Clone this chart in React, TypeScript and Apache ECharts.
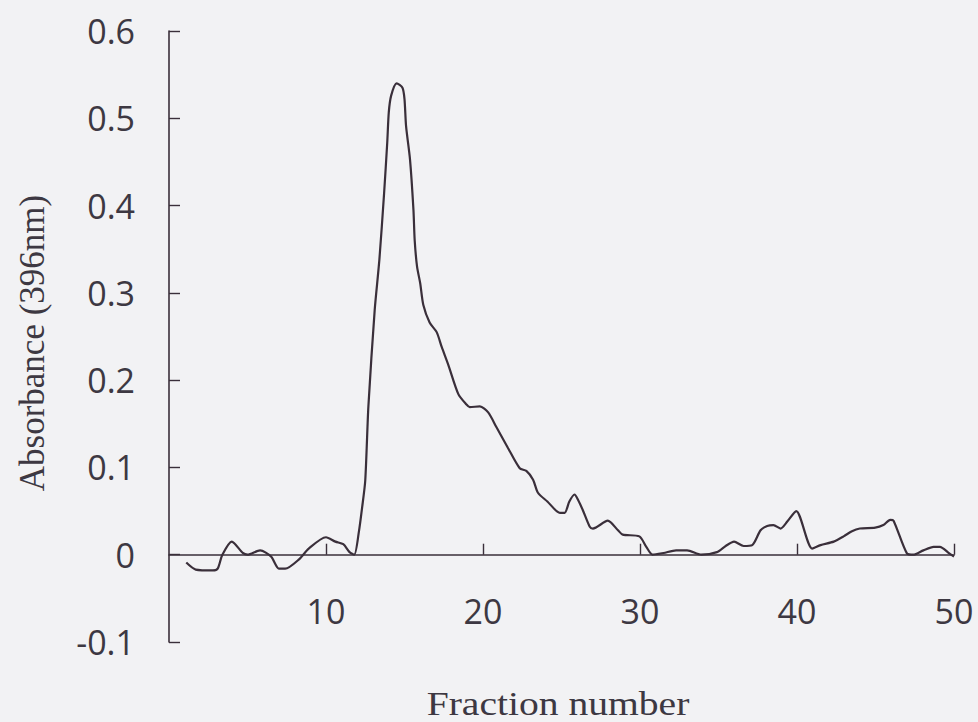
import React, { useEffect, useRef } from "react";
import * as echarts from "echarts";

const fraction = [
  1.1, 1.7, 2.8, 3.1, 3.4, 4.0, 4.7, 5.0, 5.8, 6.5, 7.0, 7.4, 8.3, 8.9, 10.0, 10.6, 11.1, 11.5, 11.8,
  12.1, 12.3, 12.5, 12.7, 13.1, 13.4, 13.7, 13.9, 14.0, 14.15, 14.5, 14.87, 15.0, 15.1, 15.35, 15.57,
  15.65, 15.8, 16.0, 16.2, 16.6, 17.05, 17.37, 17.8, 18.43, 18.95, 19.16, 19.8, 20.33, 20.86, 21.6,
  22.34, 22.76, 23.19, 23.5, 24.1, 24.9, 25.2, 25.5, 25.83, 26.05, 26.36, 26.8, 27.0, 27.95, 28.6,
  28.9, 29.96, 30.4, 30.8, 31.5, 32.3, 33.0, 33.9, 34.9, 35.46, 35.99, 36.6, 37.15, 37.68, 38.1, 38.5,
  38.95, 39.38, 39.95, 40.97, 41.5, 42.34, 42.97, 43.5, 44.0, 44.98, 45.5, 45.94, 46.15, 47.0, 47.4,
  48.05, 48.7, 49.1, 49.7, 50.0,
];

const absorbance = [
  -0.009, -0.017, -0.018, -0.016, 0.0, 0.015, 0.002, 0.0, 0.005, -0.002, -0.016, -0.016, -0.005, 0.007,
  0.02, 0.015, 0.012, 0.003, 0.0, 0.027, 0.054, 0.085, 0.17, 0.28, 0.338, 0.414, 0.472, 0.507, 0.526,
  0.54, 0.535, 0.522, 0.491, 0.453, 0.395, 0.36, 0.33, 0.311, 0.286, 0.266, 0.255, 0.238, 0.217, 0.184,
  0.172, 0.169, 0.17, 0.163, 0.146, 0.122, 0.099, 0.096, 0.086, 0.071, 0.061, 0.048, 0.048, 0.061,
  0.069, 0.063, 0.051, 0.032, 0.03, 0.039, 0.028, 0.023, 0.021, 0.009, 0.0, 0.002, 0.005, 0.005, 0.0,
  0.003, 0.01, 0.015, 0.01, 0.011, 0.028, 0.033, 0.034, 0.03, 0.038, 0.05, 0.007, 0.011, 0.015, 0.021,
  0.027, 0.03, 0.031, 0.034, 0.04, 0.039, 0.0015, 0.0, 0.005, 0.009, 0.009, 0.0015, -0.002,
];

const xTitle = "Fraction number";
const yTitle = "Absorbance (396nm)";

const INK = "#3a2f3a";
const TEXT = "#3d3842";

export default function App() {
  const ref = useRef<HTMLDivElement>(null);

  useEffect(() => {
    if (!ref.current) return;
    const chart = echarts.init(ref.current, null, { renderer: "svg" });
    const data = fraction.map((x, i) => [x, absorbance[i]]);
    chart.setOption({
      animation: false,
      backgroundColor: "#f2f2f4",
      grid: { left: 169, right: 24, top: 31, bottom: 80, containLabel: false },
      xAxis: {
        type: "value",
        min: 0,
        max: 50,
        interval: 10,
        axisLine: { show: true, onZero: true, lineStyle: { color: INK, width: 1.6 } },
        axisTick: { show: true, inside: true, length: 11, lineStyle: { color: INK, width: 1.4 } },
        axisLabel: {
          showMinLabel: false,
          margin: -48,
          color: TEXT,
          fontFamily: "Open Sans",
          fontSize: 34,
        },
        splitLine: { show: false },
      },
      yAxis: {
        type: "value",
        min: -0.1,
        max: 0.6,
        interval: 0.1,
        axisLine: { show: true, onZero: false, lineStyle: { color: INK, width: 1.6 } },
        axisTick: { show: true, inside: true, length: 11, lineStyle: { color: INK, width: 1.4 } },
        axisLabel: {
          margin: 34,
          color: TEXT,
          fontFamily: "Open Sans",
          fontSize: 34,
          formatter: (v: number) => (Math.abs(v) < 1e-9 ? "0" : v.toFixed(1)),
        },
        splitLine: { show: false },
      },
      graphic: [
        {
          type: "text",
          x: 558,
          y: 704,
          scaleX: 1.2,
          style: {
            text: xTitle,
            fontFamily: "Liberation Serif",
            fontSize: 33,
            fill: TEXT,
            align: "center",
            verticalAlign: "middle",
          },
        },
        {
          type: "text",
          x: 32,
          y: 343,
          rotation: Math.PI / 2,
          style: {
            text: yTitle,
            fontFamily: "Liberation Serif",
            fontSize: 35,
            fill: TEXT,
            align: "center",
            verticalAlign: "middle",
          },
        },
      ],
      series: [
        {
          type: "line",
          data,
          smooth: 0.25,
          showSymbol: false,
          symbol: "none",
          lineStyle: { color: INK, width: 2.2 },
        },
      ],
    });
    return () => chart.dispose();
  }, []);

  return (
    <div
      ref={ref}
      style={{ position: "absolute", left: 0, top: 0, width: 978, height: 722 }}
    />
  );
}
